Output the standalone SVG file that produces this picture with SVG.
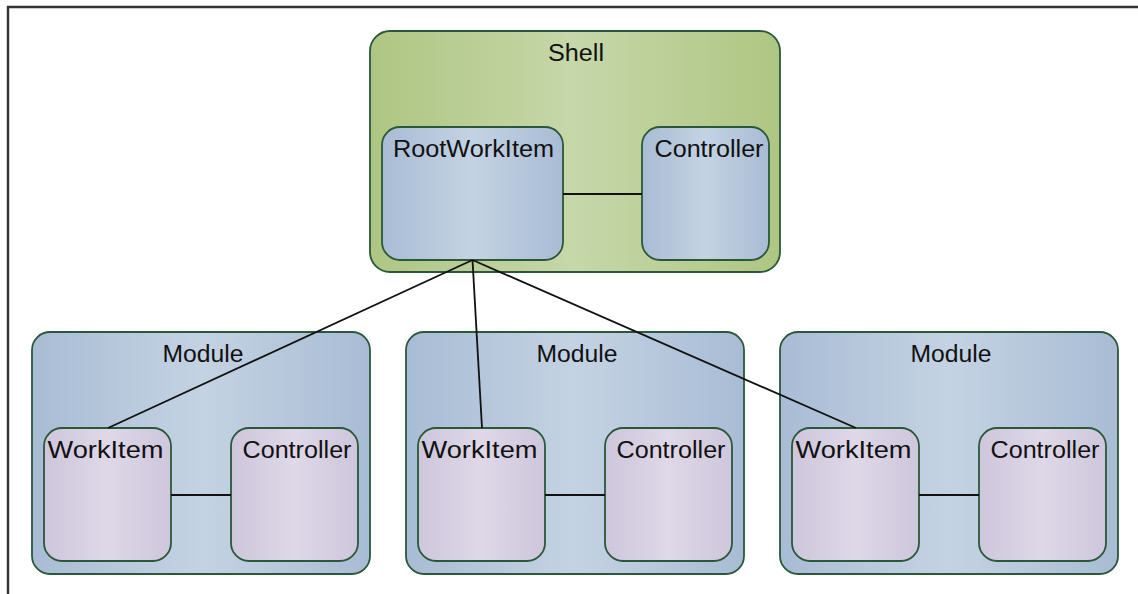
<svg xmlns="http://www.w3.org/2000/svg" width="1138" height="594" viewBox="0 0 1138 594">
  <defs>
    <linearGradient id="gGreen" x1="0" y1="0" x2="1" y2="0">
      <stop offset="0" stop-color="#aec682"/>
      <stop offset="0.5" stop-color="#c6d7a9"/>
      <stop offset="1" stop-color="#aec682"/>
    </linearGradient>
    <linearGradient id="gBlue" x1="0" y1="0" x2="1" y2="0">
      <stop offset="0" stop-color="#a9bcd5"/>
      <stop offset="0.5" stop-color="#c4d3e3"/>
      <stop offset="1" stop-color="#a9bcd5"/>
    </linearGradient>
    <linearGradient id="gPurple" x1="0" y1="0" x2="1" y2="0">
      <stop offset="0" stop-color="#cec6db"/>
      <stop offset="0.5" stop-color="#ded8e8"/>
      <stop offset="1" stop-color="#cec6db"/>
    </linearGradient>
    <style>
      .box { stroke: #2a5838; stroke-width: 1.8; }
      .shell { fill: url(#gGreen); }
      .blue { fill: url(#gBlue); }
      .purple { fill: url(#gPurple); }
      .lbl { font-family: "Liberation Sans", Arial, sans-serif; font-size: 23px; fill: #111; text-anchor: middle; }
      .wire { stroke: #111; stroke-width: 1.8; fill: none; }
      .frame { stroke: #333; stroke-width: 2.4; fill: none; }
    </style>
  </defs>

  <rect width="1138" height="594" fill="#ffffff"/>
  <!-- page frame -->
  <path class="frame" d="M8,594 V7 H1138"/>

  <!-- Shell -->
  <g id="shell">
    <rect class="box shell" x="370" y="31" width="410" height="241" rx="20"/>
    <text class="lbl" x="576" y="61" textLength="56" lengthAdjust="spacingAndGlyphs">Shell</text>
  </g>
  <g id="root-work-item">
    <rect class="box blue" x="382" y="127" width="181" height="133" rx="18"/>
    <text class="lbl" x="473.5" y="157" textLength="161" lengthAdjust="spacingAndGlyphs">RootWorkItem</text>
  </g>
  <g id="shell-controller">
    <rect class="box blue" x="642" y="127" width="127" height="133" rx="18"/>
    <text class="lbl" x="709" y="157" textLength="109" lengthAdjust="spacingAndGlyphs">Controller</text>
  </g>

  <!-- Module 1 -->
  <g id="module-1">
    <rect class="box blue" x="32" y="332" width="338" height="242" rx="18"/>
    <text class="lbl" x="203" y="362" textLength="81" lengthAdjust="spacingAndGlyphs">Module</text>
  </g>
  <g id="work-item-1">
    <rect class="box purple" x="44" y="428" width="127" height="133" rx="18"/>
    <text class="lbl" x="105.5" y="458" textLength="116" lengthAdjust="spacingAndGlyphs">WorkItem</text>
  </g>
  <g id="controller-1">
    <rect class="box purple" x="231" y="428" width="127" height="133" rx="18"/>
    <text class="lbl" x="297" y="458" textLength="109" lengthAdjust="spacingAndGlyphs">Controller</text>
  </g>

  <!-- Module 2 -->
  <g id="module-2">
    <rect class="box blue" x="406" y="332" width="338" height="242" rx="18"/>
    <text class="lbl" x="577" y="362" textLength="81" lengthAdjust="spacingAndGlyphs">Module</text>
  </g>
  <g id="work-item-2">
    <rect class="box purple" x="418" y="428" width="127" height="133" rx="18"/>
    <text class="lbl" x="479.5" y="458" textLength="116" lengthAdjust="spacingAndGlyphs">WorkItem</text>
  </g>
  <g id="controller-2">
    <rect class="box purple" x="605" y="428" width="127" height="133" rx="18"/>
    <text class="lbl" x="671" y="458" textLength="109" lengthAdjust="spacingAndGlyphs">Controller</text>
  </g>

  <!-- Module 3 -->
  <g id="module-3">
    <rect class="box blue" x="780" y="332" width="338" height="242" rx="18"/>
    <text class="lbl" x="951" y="362" textLength="81" lengthAdjust="spacingAndGlyphs">Module</text>
  </g>
  <g id="work-item-3">
    <rect class="box purple" x="792" y="428" width="127" height="133" rx="18"/>
    <text class="lbl" x="853.5" y="458" textLength="116" lengthAdjust="spacingAndGlyphs">WorkItem</text>
  </g>
  <g id="controller-3">
    <rect class="box purple" x="979" y="428" width="127" height="133" rx="18"/>
    <text class="lbl" x="1045" y="458" textLength="109" lengthAdjust="spacingAndGlyphs">Controller</text>
  </g>

  <!-- connectors -->
  <g id="connectors">
    <line class="wire" x1="563" y1="194" x2="642" y2="194"/>
    <line class="wire" x1="472.5" y1="260" x2="108" y2="428"/>
    <line class="wire" x1="472.5" y1="260" x2="482" y2="428"/>
    <line class="wire" x1="472.5" y1="260" x2="856" y2="428"/>
    <line class="wire" x1="171" y1="495" x2="231" y2="495"/>
    <line class="wire" x1="545" y1="495" x2="605" y2="495"/>
    <line class="wire" x1="919" y1="495" x2="979" y2="495"/>
  </g>
</svg>
